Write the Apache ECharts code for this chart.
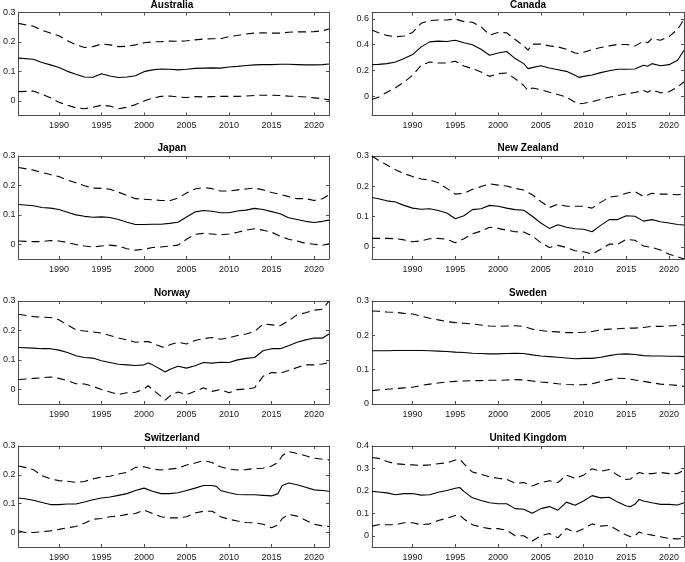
<!DOCTYPE html>
<html>
<head>
<meta charset="utf-8">
<script src="https://cdn.jsdelivr.net/npm/echarts@6/dist/echarts.min.js"></script>
<style>
html,body{margin:0;padding:0;background:#fff;}
#c{width:685px;height:562px;}
</style>
</head>
<body>
<div id="c"></div>
<script>
// ---------- tick labels ----------
const xTicks = [1990, 1995, 2000, 2005, 2010, 2015, 2020];
const yTicks03 = [0, 0.1, 0.2, 0.3];
const yTicksCA = [0, 0.2, 0.4, 0.6];
const yTicksUK = [0, 0.1, 0.2, 0.3, 0.4];

// ---------- Australia ----------
const auYears = [1985.25,1987,1988,1989,1990,1991,1992,1993,1994,1995,1996,1997,1998,1999,2000,2001,2002,2003,2004,2005,2006,2007,2008,2009,2010,2011,2012,2013,2014,2015,2016,2017,2018,2019,2020,2021,2021.75];
const auMid = [0.145,0.141,0.13,0.122,0.113,0.10,0.09,0.081,0.08,0.092,0.084,0.079,0.081,0.085,0.099,0.105,0.108,0.107,0.105,0.107,0.11,0.111,0.112,0.111,0.115,0.117,0.12,0.122,0.123,0.123,0.124,0.124,0.123,0.122,0.122,0.123,0.125];
const auUp = [0.263,0.253,0.24,0.23,0.221,0.204,0.19,0.181,0.184,0.193,0.19,0.184,0.185,0.19,0.197,0.2,0.201,0.203,0.202,0.204,0.207,0.21,0.211,0.211,0.218,0.222,0.227,0.23,0.231,0.23,0.23,0.233,0.234,0.234,0.235,0.238,0.244];
const auLo = [0.031,0.033,0.022,0.01,-0.005,-0.015,-0.024,-0.027,-0.022,-0.015,-0.018,-0.027,-0.022,-0.013,-0.001,0.009,0.015,0.016,0.013,0.011,0.014,0.013,0.014,0.015,0.015,0.015,0.016,0.018,0.019,0.019,0.018,0.016,0.015,0.013,0.01,0.007,0.003];

// ---------- Canada ----------
const caYears = [1985.25,1986,1987,1988,1989,1990,1991,1992,1993,1994,1995,1996,1997,1998,1999,2000,2001,2002,2003,2003.5,2004,2005,2006,2007,2008,2009,2009.5,2010,2011,2012,2013,2014,2015,2016,2017,2017.5,2018,2019,2020,2021,2021.75];
const caMid = [0.245,0.247,0.253,0.266,0.292,0.323,0.383,0.422,0.428,0.425,0.435,0.415,0.4,0.365,0.318,0.336,0.347,0.292,0.253,0.214,0.222,0.237,0.219,0.206,0.193,0.162,0.146,0.154,0.164,0.183,0.198,0.209,0.209,0.211,0.24,0.232,0.253,0.237,0.245,0.279,0.357];
const caUp = [0.514,0.493,0.472,0.462,0.467,0.495,0.566,0.587,0.592,0.592,0.6,0.579,0.574,0.54,0.475,0.495,0.493,0.44,0.391,0.357,0.404,0.404,0.391,0.383,0.365,0.336,0.33,0.342,0.362,0.378,0.391,0.402,0.402,0.389,0.428,0.415,0.448,0.435,0.462,0.519,0.597];
const caLo = [-0.026,-0.008,0.031,0.065,0.11,0.162,0.24,0.266,0.258,0.258,0.271,0.235,0.214,0.188,0.154,0.175,0.18,0.136,0.083,0.044,0.063,0.05,0.031,0.013,-0.008,-0.047,-0.06,-0.055,-0.042,-0.026,-0.008,0.005,0.018,0.029,0.044,0.03,0.05,0.026,0.034,0.07,0.112];

// ---------- Japan ----------
const jpYears = [1985.25,1987,1988,1989,1990,1991,1992,1993,1994,1995,1996,1997,1998,1999,2000,2001,2002,2003,2004,2005,2006,2007,2008,2009,2010,2011,2012,2013,2014,2015,2016,2017,2018,2019,2020,2021,2021.75];
const jpMid = [0.135,0.131,0.125,0.123,0.118,0.109,0.1,0.095,0.092,0.093,0.091,0.084,0.075,0.067,0.067,0.068,0.068,0.071,0.075,0.093,0.11,0.115,0.112,0.107,0.107,0.113,0.116,0.122,0.118,0.111,0.104,0.09,0.084,0.078,0.074,0.078,0.082];
const jpUp = [0.261,0.252,0.244,0.237,0.23,0.218,0.209,0.199,0.191,0.19,0.187,0.177,0.166,0.155,0.153,0.151,0.149,0.148,0.157,0.174,0.188,0.193,0.189,0.181,0.181,0.185,0.188,0.191,0.185,0.176,0.17,0.162,0.155,0.155,0.149,0.155,0.168];
const jpLo = [0.011,0.009,0.009,0.013,0.011,0.006,-0.001,-0.006,-0.009,-0.006,-0.003,-0.006,-0.015,-0.02,-0.017,-0.011,-0.009,-0.006,-0.003,0.017,0.034,0.037,0.035,0.032,0.035,0.041,0.048,0.053,0.048,0.041,0.028,0.017,0.011,0.003,0,-0.003,0.002];

// ---------- New Zealand ----------
const nzYears = [1985.25,1986,1987,1988,1989,1990,1991,1992,1993,1994,1995,1996,1997,1998,1999,2000,2001,2002,2003,2004,2005,2006,2007,2008,2009,2010,2011,2012,2013,2014,2015,2016,2017,2018,2019,2020,2021,2021.75];
const nzMid = [0.163,0.159,0.152,0.148,0.137,0.128,0.124,0.126,0.12,0.112,0.093,0.103,0.123,0.126,0.137,0.134,0.128,0.123,0.121,0.101,0.079,0.061,0.073,0.065,0.06,0.058,0.05,0.071,0.09,0.09,0.103,0.101,0.085,0.09,0.083,0.079,0.074,0.072];
const nzUp = [0.3,0.286,0.27,0.255,0.242,0.232,0.224,0.221,0.212,0.193,0.174,0.177,0.19,0.199,0.208,0.204,0.201,0.193,0.188,0.172,0.15,0.13,0.141,0.134,0.134,0.134,0.128,0.147,0.164,0.168,0.177,0.183,0.166,0.177,0.174,0.174,0.172,0.175];
const nzLo = [0.028,0.028,0.028,0.027,0.023,0.017,0.02,0.027,0.028,0.025,0.014,0.027,0.043,0.052,0.065,0.061,0.055,0.05,0.049,0.036,0.014,-0.002,0.005,-0.002,-0.013,-0.016,-0.024,-0.008,0.009,0.009,0.025,0.022,0.003,-0.002,-0.01,-0.024,-0.033,-0.04];

// ---------- Norway ----------
const noYears = [1985.25,1987,1988,1989,1990,1991,1992,1993,1994,1995,1996,1997,1998,1999,2000,2000.5,2001,2002,2002.5,2003,2004,2005,2006,2007,2008,2009,2010,2011,2012,2013,2014,2015,2016,2017,2018,2019,2020,2021,2021.75];
const noMid = [0.142,0.14,0.138,0.138,0.133,0.125,0.114,0.108,0.106,0.097,0.091,0.085,0.083,0.081,0.083,0.089,0.083,0.067,0.059,0.067,0.078,0.072,0.08,0.091,0.089,0.092,0.091,0.1,0.105,0.108,0.131,0.138,0.138,0.148,0.16,0.168,0.174,0.174,0.188];
const noUp = [0.255,0.247,0.245,0.244,0.236,0.219,0.202,0.198,0.195,0.191,0.183,0.174,0.168,0.16,0.162,0.162,0.157,0.145,0.142,0.151,0.16,0.154,0.166,0.172,0.176,0.17,0.175,0.183,0.188,0.196,0.222,0.219,0.216,0.233,0.253,0.26,0.269,0.272,0.3];
const noLo = [0.033,0.037,0.039,0.042,0.037,0.029,0.019,0.018,0.01,-0.001,-0.009,-0.018,-0.012,-0.01,0.001,0.012,-0.001,-0.024,-0.037,-0.024,-0.009,-0.018,-0.007,0.005,-0.007,-0.001,-0.012,-0.001,0.001,0.005,0.044,0.057,0.055,0.064,0.074,0.083,0.083,0.086,0.091];

// ---------- Sweden ----------
const seYears = [1985.25,1986,1987,1988,1989,1990,1991,1992,1993,1994,1995,1996,1997,1998,1999,2000,2001,2002,2003,2004,2005,2006,2007,2008,2009,2010,2011,2012,2013,2014,2015,2016,2017,2018,2019,2020,2021,2021.75];
const seMid = [0.155,0.155,0.155,0.156,0.156,0.156,0.156,0.155,0.154,0.153,0.151,0.15,0.148,0.147,0.146,0.146,0.147,0.148,0.147,0.143,0.14,0.138,0.136,0.134,0.132,0.133,0.133,0.136,0.141,0.145,0.146,0.144,0.141,0.14,0.14,0.139,0.139,0.138];
const seUp = [0.271,0.27,0.268,0.267,0.264,0.262,0.256,0.25,0.245,0.24,0.237,0.235,0.233,0.23,0.227,0.226,0.227,0.228,0.226,0.218,0.214,0.211,0.21,0.208,0.208,0.209,0.211,0.216,0.218,0.219,0.221,0.221,0.223,0.226,0.226,0.227,0.229,0.232];
const seLo = [0.039,0.041,0.043,0.045,0.047,0.049,0.054,0.058,0.061,0.064,0.066,0.067,0.068,0.068,0.069,0.069,0.07,0.071,0.07,0.067,0.064,0.062,0.059,0.057,0.056,0.056,0.059,0.065,0.071,0.075,0.074,0.07,0.066,0.062,0.058,0.056,0.054,0.051];

// ---------- Switzerland ----------
const chYears = [1985.25,1986,1987,1988,1989,1990,1991,1992,1993,1994,1995,1996,1997,1998,1999,2000,2001,2002,2003,2004,2005,2006,2007,2008,2008.5,2009,2010,2011,2012,2013,2014,2015,2015.75,2016.25,2017,2018,2019,2020,2021,2021.75];
const chMid = [0.12,0.117,0.112,0.104,0.097,0.097,0.099,0.099,0.106,0.114,0.12,0.123,0.129,0.135,0.146,0.154,0.143,0.135,0.135,0.138,0.146,0.154,0.163,0.163,0.16,0.146,0.138,0.132,0.131,0.131,0.129,0.127,0.135,0.163,0.172,0.166,0.157,0.148,0.146,0.143];
const chUp = [0.231,0.226,0.218,0.197,0.186,0.18,0.178,0.174,0.177,0.186,0.192,0.195,0.203,0.209,0.226,0.228,0.22,0.217,0.22,0.223,0.234,0.241,0.249,0.243,0.235,0.228,0.22,0.217,0.218,0.222,0.223,0.231,0.243,0.266,0.281,0.274,0.266,0.258,0.254,0.252];
const chLo = [0.006,0,0,0.003,0.006,0.011,0.017,0.021,0.032,0.046,0.049,0.055,0.057,0.063,0.066,0.078,0.066,0.055,0.051,0.051,0.055,0.068,0.074,0.074,0.066,0.055,0.046,0.04,0.035,0.034,0.029,0.017,0.026,0.049,0.063,0.057,0.043,0.029,0.023,0.021];

// ---------- United Kingdom ----------
const ukYears = [1985.25,1986,1987,1988,1989,1990,1991,1992,1993,1994,1995,1995.5,1996,1997,1998,1999,2000,2001,2002,2003,2004,2005,2006,2007,2008,2009,2010,2011,2012,2013,2014,2015,2015.5,2016,2016.5,2017,2018,2019,2020,2021,2021.75];
const ukMid = [0.198,0.195,0.191,0.183,0.188,0.188,0.181,0.183,0.194,0.202,0.212,0.215,0.198,0.169,0.157,0.147,0.143,0.143,0.121,0.118,0.1,0.121,0.13,0.114,0.15,0.136,0.155,0.179,0.169,0.172,0.15,0.133,0.13,0.14,0.162,0.155,0.147,0.14,0.14,0.137,0.147];
const ukUp = [0.349,0.345,0.331,0.321,0.318,0.316,0.313,0.316,0.321,0.325,0.338,0.342,0.321,0.284,0.274,0.263,0.256,0.251,0.234,0.237,0.222,0.237,0.245,0.237,0.27,0.256,0.27,0.299,0.287,0.295,0.27,0.251,0.253,0.27,0.282,0.277,0.277,0.282,0.277,0.277,0.292];
const ukLo = [0.043,0.049,0.049,0.049,0.058,0.058,0.049,0.053,0.068,0.078,0.09,0.092,0.075,0.049,0.039,0.032,0.032,0.025,0,0,-0.023,0,0.01,-0.009,0.032,0.014,0.032,0.053,0.043,0.046,0.025,0.003,-0.004,0,0.017,0.01,0.003,-0.004,-0.012,-0.014,-0.009];

const panels = [
  {name:'Australia', years:auYears, mid:auMid, up:auUp, lo:auLo, min:-0.05, max:0.3, ticks:yTicks03},
  {name:'Canada', years:caYears, mid:caMid, up:caUp, lo:caLo, min:-0.15, max:0.65, ticks:yTicksCA},
  {name:'Japan', years:jpYears, mid:jpMid, up:jpUp, lo:jpLo, min:-0.05, max:0.3, ticks:yTicks03},
  {name:'New Zealand', years:nzYears, mid:nzMid, up:nzUp, lo:nzLo, min:-0.04, max:0.3, ticks:yTicks03},
  {name:'Norway', years:noYears, mid:noMid, up:noUp, lo:noLo, min:-0.05, max:0.3, ticks:yTicks03},
  {name:'Sweden', years:seYears, mid:seMid, up:seUp, lo:seLo, min:0, max:0.3, ticks:yTicks03},
  {name:'Switzerland', years:chYears, mid:chMid, up:chUp, lo:chLo, min:-0.05, max:0.3, ticks:yTicks03},
  {name:'United Kingdom', years:ukYears, mid:ukMid, up:ukUp, lo:ukLo, min:-0.05, max:0.4, ticks:yTicksUK}
];

// ---------- layout ----------
const colLeft = [15, 372];
const colWidth = [314, 312];
const rowTop = [12.5, 156, 301, 446];
const boxH = 103;
const FONT = 'Liberation Sans, Arial, Helvetica, sans-serif';
const AX = '#4d4d4d';
const TXT = '#1a1a1a';

const grids = [], xAxes = [], yAxes = [], series = [], graphics = [];

function zip(xs, ys) { return xs.map((x, k) => [x, ys[k]]); }

panels.forEach((p, i) => {
  const col = i % 2, row = Math.floor(i / 2);
  const left = colLeft[col], top = rowTop[row], w = colWidth[col];
  grids.push({left: left, top: top, width: w, height: boxH, containLabel: false});

  const xBase = {
    type: 'value', gridIndex: i, min: 1985.25, max: 2021.75,
    axisLine: {show: true, onZero: false, lineStyle: {color: AX, width: 1}},
    axisTick: {show: true, inside: true, length: 3, customValues: xTicks, lineStyle: {color: AX, width: 1}},
    splitLine: {show: false}
  };
  xAxes.push(Object.assign({}, xBase, {
    position: 'bottom',
    axisLabel: {show: true, customValues: xTicks, formatter: v => String(v), fontSize: 9, color: TXT, margin: 6, fontFamily: FONT}
  }));
  xAxes.push(Object.assign({}, xBase, {position: 'top', axisLabel: {show: false}}));

  const yBase = {
    type: 'value', gridIndex: i, min: p.min, max: p.max,
    axisLine: {show: true, onZero: false, lineStyle: {color: AX, width: 1}},
    axisTick: {show: true, inside: true, length: 3, customValues: p.ticks, lineStyle: {color: AX, width: 1}},
    splitLine: {show: false}
  };
  yAxes.push(Object.assign({}, yBase, {
    position: 'left',
    axisLabel: {show: true, customValues: p.ticks, formatter: v => String(v), fontSize: 9, color: TXT, margin: 3, fontFamily: FONT}
  }));
  yAxes.push(Object.assign({}, yBase, {position: 'right', axisLabel: {show: false}}));

  const xi = i * 2, yi = i * 2;
  series.push({type: 'line', xAxisIndex: xi, yAxisIndex: yi, data: zip(p.years, p.mid), showSymbol: false, symbol: 'none',
    lineStyle: {color: '#000', width: 1.1}, animation: false, silent: true, clip: true});
  series.push({type: 'line', xAxisIndex: xi, yAxisIndex: yi, data: zip(p.years, p.up), showSymbol: false, symbol: 'none',
    lineStyle: {color: '#000', width: 1.1, type: [8, 5]}, animation: false, silent: true, clip: true});
  series.push({type: 'line', xAxisIndex: xi, yAxisIndex: yi, data: zip(p.years, p.lo), showSymbol: false, symbol: 'none',
    lineStyle: {color: '#000', width: 1.1, type: [8, 5]}, animation: false, silent: true, clip: true});

  graphics.push({type: 'text', x: left + w / 2, y: top - 2.5, style: {text: p.name, font: 'bold 10px ' + FONT, fill: '#000', textAlign: 'center', textVerticalAlign: 'bottom'}});
});

const chart = echarts.init(document.getElementById('c'), null, {renderer: 'canvas'});
chart.setOption({
  backgroundColor: '#fff',
  animation: false,
  grid: grids,
  xAxis: xAxes,
  yAxis: yAxes,
  series: series,
  graphic: graphics
});
</script>
</body>
</html>
